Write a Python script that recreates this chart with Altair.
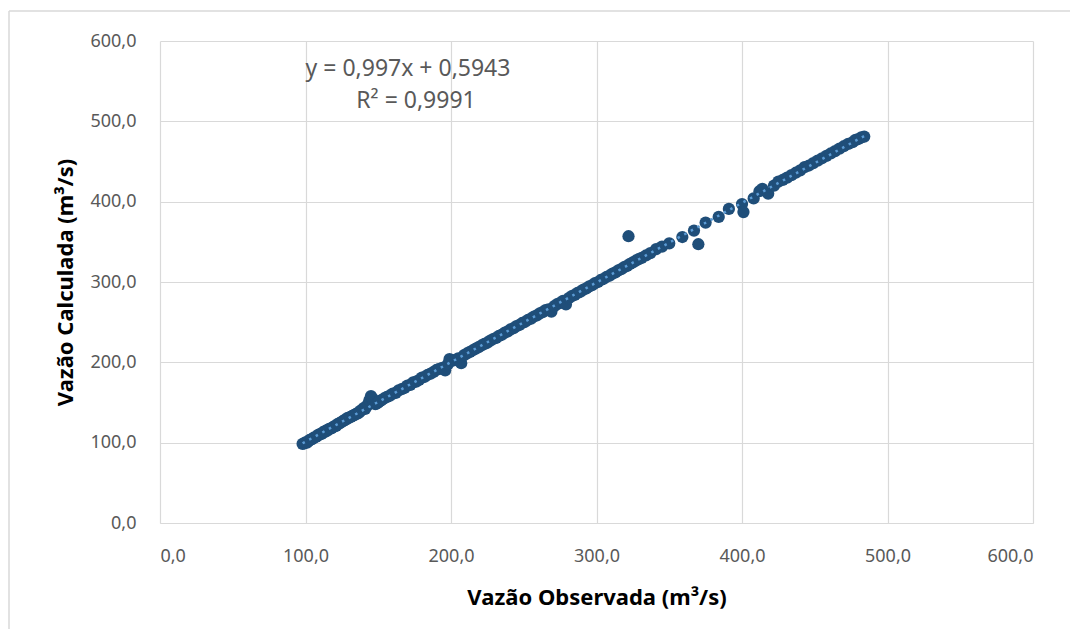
import altair as alt
import pandas as pd

# Observed flow (x) and calculated flow (y), m3/s
obs = [98, 99, 100, 101, 102, 103, 104, 105, 106, 107, 108, 109, 110, 111, 112, 113, 114, 115, 116, 117,
       118, 119, 120, 121, 122, 123, 124, 125, 126, 127, 128, 129, 130, 131, 132, 133, 134, 135, 136, 137,
       138, 139, 140, 141, 142, 143, 144, 145, 146, 147, 148, 149, 150, 151, 152, 154, 156, 158, 160, 162,
       164, 166, 168, 170, 172, 174, 176, 178, 180, 182, 184, 186, 188, 190, 192, 194, 196, 198, 199, 201,
       203, 205, 207, 209, 211, 213, 215, 217, 219, 221, 223, 225, 227, 229, 231, 233, 235, 237, 239, 241,
       243, 245, 247, 249, 251, 253, 255, 257, 259, 261, 263, 265, 267, 269, 271, 273, 275, 277, 279, 281,
       283, 285, 287, 289, 291, 293, 295, 297, 299, 301, 303, 305, 307, 309, 311, 313, 315, 317, 319, 321,
       323, 322, 325, 327, 329, 331, 334, 337, 341, 345, 350, 359, 367, 370, 375, 384, 391, 400, 401, 408,
       412, 414, 418, 422, 425, 428, 431, 434, 437, 440, 443, 446, 449, 452, 455, 458, 461, 464, 467, 470,
       473, 476, 478, 480, 482, 484]
calc = [98.5, 99, 100.5, 100, 102, 103.5, 104, 105, 106.5, 107, 108, 110, 110.5, 111, 113, 113, 115, 115, 117, 117.5,
        118, 119.5, 120.5, 121, 123, 123.5, 125, 126, 127, 128.5, 129, 131, 131, 132, 133, 134, 135, 136, 136.5, 138,
        140, 141, 143, 142, 145, 148, 153, 158, 155, 150, 148, 149, 150, 152, 152.5, 155, 157, 158.5, 161, 162,
        165, 166.5, 168, 171, 172, 175, 176, 178, 181, 182, 184.5, 186, 188, 190.5, 192, 193, 190, 198, 204, 202,
        203, 205, 199, 209, 211, 213, 215, 217, 219, 221, 223, 224.5, 227, 229, 230.5, 233, 234.5, 237, 238.5, 241,
        242.5, 245, 246.5, 249, 250.5, 253, 254.5, 257, 258.5, 261, 262.5, 265, 266, 263, 270, 272.5, 274, 276.5, 272, 280,
        282.5, 284, 286.5, 288, 290.5, 292, 294.5, 296, 298.5, 300, 302.5, 304, 306.5, 308, 310.5, 312, 314.5, 316, 318.5, 320,
        322.5, 357, 324.5, 326.5, 328.5, 330, 333, 336, 341, 344, 348, 356, 364, 347, 374, 381, 391, 397, 387, 404,
        413, 416, 410, 420, 425, 427, 430, 433, 436, 439, 443, 445, 448, 451, 454, 457, 460, 463, 466, 469,
        472, 474, 477, 478, 480, 481]

ticks = [0, 100, 200, 300, 400, 500, 600]
eq_lines = ["y = 0,997x + 0,5943", "R² = 0,9991"]

df = pd.DataFrame({"obs": obs, "calc": calc})

FONT = "Noto Sans"
label_expr = "replace(format(datum.value, '.1f'), '.', ',')"

x_enc = alt.X("obs:Q", scale=alt.Scale(domain=[0, 600], nice=False),
              axis=alt.Axis(values=ticks, labelExpr=label_expr, title="Vazão Observada (m³/s)",
                            titlePadding=22, labelPadding=24))
y_enc = alt.Y("calc:Q", scale=alt.Scale(domain=[0, 600], nice=False),
              axis=alt.Axis(values=ticks, labelExpr=label_expr, title="Vazão Calculada (m³/s)",
                            titlePadding=12, labelPadding=24))

points = alt.Chart(df).mark_circle(size=150, opacity=1, color="#1f4e79").encode(x=x_enc, y=y_enc)

trend = alt.Chart(df).transform_regression("obs", "calc").mark_line(
    color="#5b9bd5", strokeWidth=2.5, strokeDash=[2.5, 5]
).encode(x="obs:Q", y="calc:Q")

eq1 = alt.Chart(pd.DataFrame({"t": [eq_lines[0]]})).mark_text(
    font=FONT, fontSize=23, color="#595959", align="center", baseline="middle"
).encode(text="t:N", x=alt.value(248), y=alt.value(28))
eq2 = alt.Chart(pd.DataFrame({"t": [eq_lines[1]]})).mark_text(
    font=FONT, fontSize=23, color="#595959", align="center", baseline="middle"
).encode(text="t:N", x=alt.value(256), y=alt.value(60))

# outer chart-area frame (light grey), as in the spreadsheet export
frame_left = alt.Chart(pd.DataFrame({"a": [0]})).mark_rule(color="#d9d9d9", strokeWidth=1.5, clip=False).encode(
    x=alt.value(-151), y=alt.value(-30), y2=alt.value(600))
frame_top = alt.Chart(pd.DataFrame({"a": [0]})).mark_rule(color="#d9d9d9", strokeWidth=1.5, clip=False).encode(
    x=alt.value(-151), x2=alt.value(930), y=alt.value(-30))

chart = alt.layer(frame_left, frame_top, points, trend, eq1, eq2).properties(
    width=873, height=482,
    autosize=alt.AutoSizeParams(type="none"),
    padding={"left": 152, "top": 33, "right": 37, "bottom": 106},
    background="white",
).configure_view(stroke=None).configure_axis(
    grid=True, gridColor="#d9d9d9", gridWidth=1.2,
    domain=False, ticks=False,
    labelFont=FONT, labelFontSize=18, labelColor="#595959",
    titleFont=FONT, titleFontSize=22, titleFontWeight="bold", titleColor="#000000",
).configure_axisX(domain=True, domainColor="#d9d9d9", domainWidth=1.2)

chart.save("out.html", embed_options={"renderer": "svg", "actions": False})
